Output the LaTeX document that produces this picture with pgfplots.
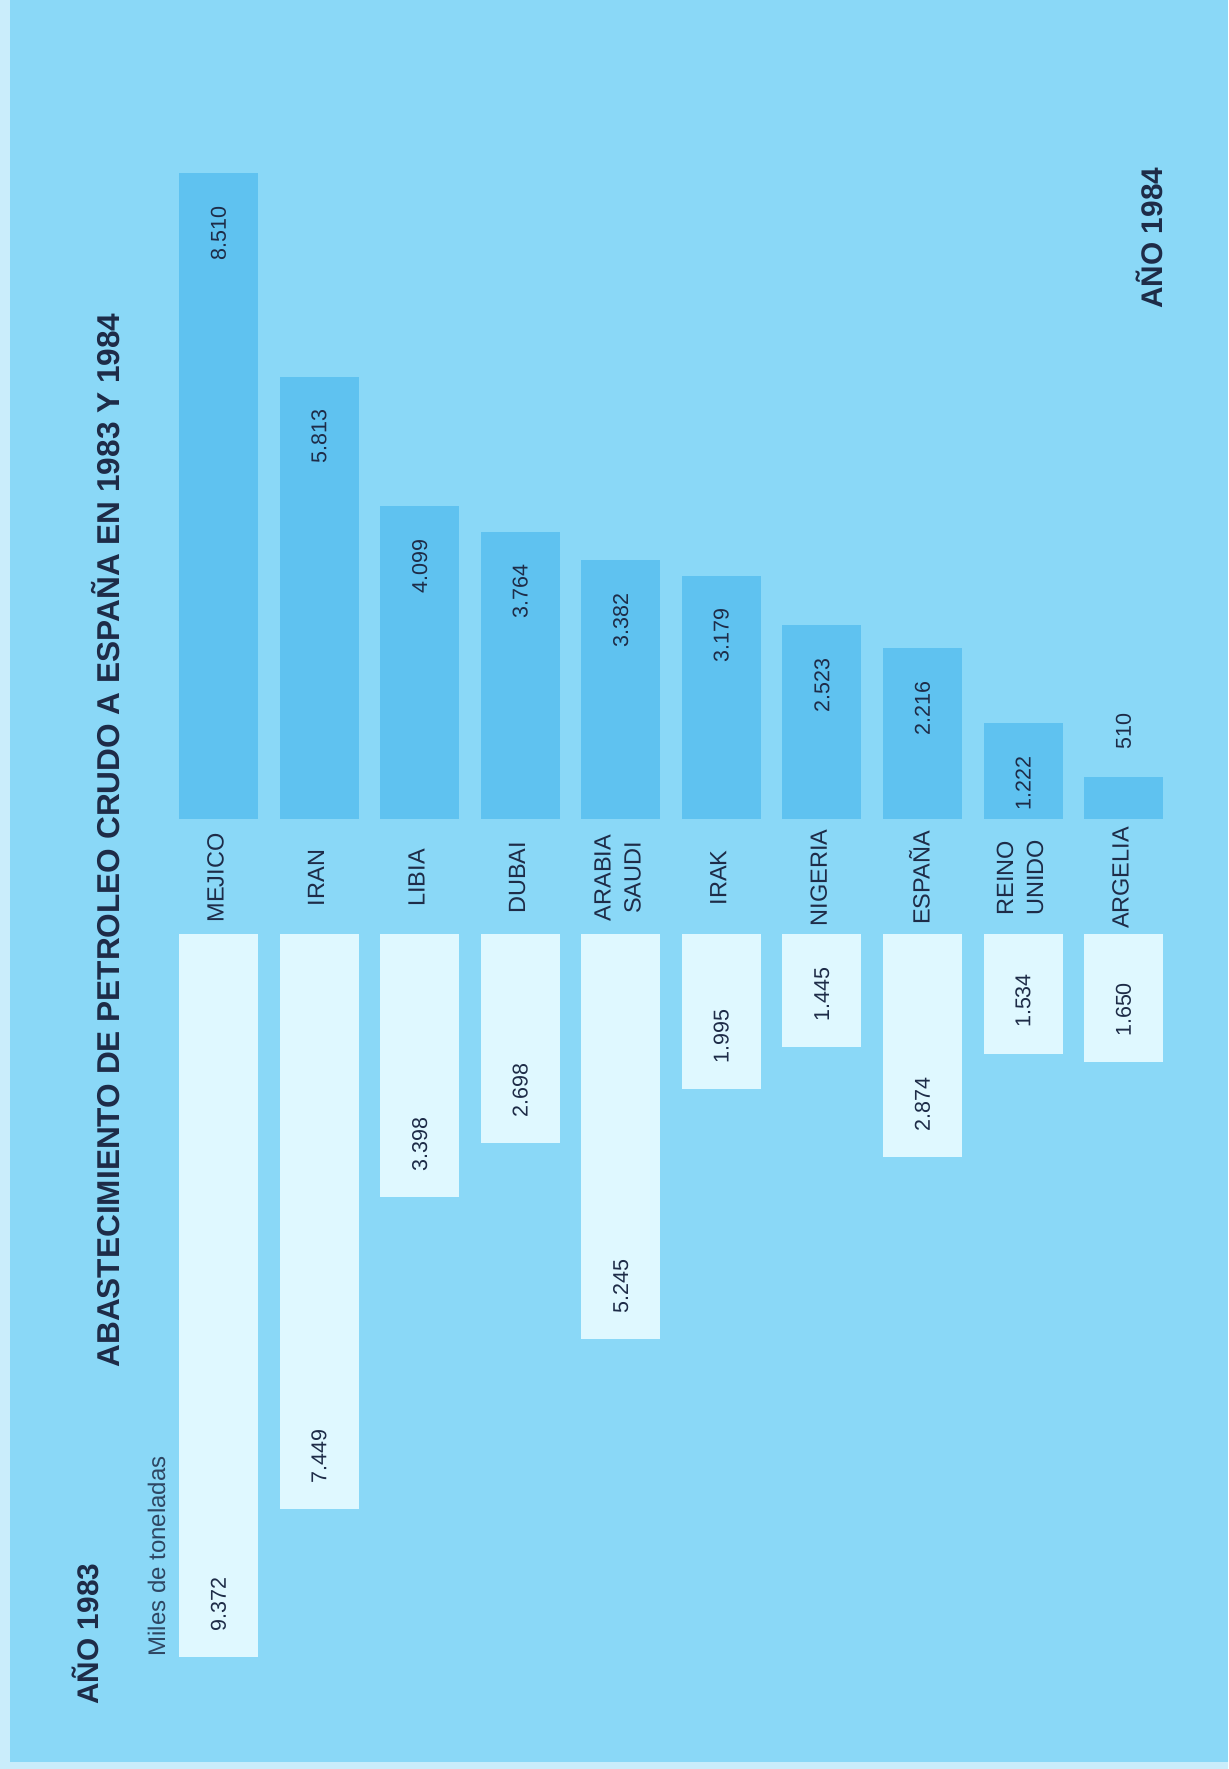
\documentclass[border=0pt]{standalone}
\usepackage{fontspec}
\setmainfont{Liberation Sans}
\usepackage{pgfplots}
\usepackage{pgfplotstable}
\pgfplotsset{compat=1.18}
\definecolor{bg}{HTML}{8AD8F7}
\definecolor{b84}{HTML}{5FC2F0}
\definecolor{b83}{HTML}{DFF8FF}
\definecolor{ink}{HTML}{1E2C48}
\pgfkeys{/pgf/number format/.cd, fixed, precision=0, 1000 sep={.}, assume math mode=true}

% 1984
\pgfplotstableread{
x y
0 8510
1 5813
2 4099
3 3764
4 3382
5 3179
6 2523
7 2216
8 1222
}\tabA
\pgfplotstableread{
x y
9 510
}\tabAb
% 1983
\pgfplotstableread{
x y
0 9372
1 7449
2 3398
3 2698
4 5245
5 1995
6 1445
7 2874
8 1534
9 1650
}\tabB

\begin{document}
\begin{tikzpicture}
\fill[bg] (0,0) rectangle (614pt,884.5pt);
\fill[bg!45!white] (0,0) rectangle (5pt,884.5pt);
\fill[bg!45!white] (0,0) rectangle (614pt,3.5pt);

% ---- 1984 (upwards)
\begin{axis}[
  at={(84.11pt,475pt)}, anchor=south west,
  x=50.28pt, y=0.03775pt,
  xmin=-0.5, xmax=9.5, ymin=0, ymax=9000,
  ybar, bar width=36.25pt,
  axis line style={draw=none},
  major tick length=0pt,
  ytick=\empty,
  xtick={0,...,9},
  xticklabels={MEJICO,IRAN,LIBIA,DUBAI,{ARABIA\\SAUDI},IRAK,NIGERIA,ESPAÑA,{REINO\\UNIDO},ARGELIA},
  xticklabel style={yshift=-29.5pt, xshift=-1.5pt, rotate=90, anchor=center, align=center,
     font=\fontsize{11.75}{15}\selectfont, text=ink, inner sep=0pt},
  clip=true,
]
\addplot[fill=b84, draw=b84, line width=3.25pt, bar shift=0pt, point meta=explicit,
  nodes near coords={\pgfmathprintnumber{\pgfplotspointmeta}},
  every node near coord/.append style={yshift=-13.25pt, rotate=90, anchor=east, inner sep=0pt,
     font=\fontsize{10.75}{12}\selectfont, text=ink}]
  table[x=x, y=y, meta=y] {\tabA};
\addplot[fill=b84, draw=b84, line width=3.25pt, bar shift=0pt, point meta=explicit,
  nodes near coords={\pgfmathprintnumber{\pgfplotspointmeta}},
  every node near coord/.append style={yshift=13.75pt, rotate=90, anchor=west, inner sep=0pt,
     font=\fontsize{10.75}{12}\selectfont, text=ink}]
  table[x=x, y=y, meta=y] {\tabAb};
\end{axis}

% ---- 1983 (downwards)
\begin{axis}[
  at={(84.11pt,417.5pt)}, anchor=north west,
  x=50.28pt, y=0.0385pt,
  xmin=-0.5, xmax=9.5, ymin=0, ymax=10000,
  y dir=reverse,
  ybar, bar width=38.1pt,
  axis line style={draw=none},
  major tick length=0pt,
  xtick=\empty, ytick=\empty,
  clip=true,
]
\addplot[fill=b83, draw=b83, line width=1.4pt, bar shift=0pt, point meta=explicit,
  nodes near coords={\pgfmathprintnumber{\pgfplotspointmeta}},
  every node near coord/.append style={yshift=11.4pt, rotate=90, anchor=west, inner sep=0pt,
     font=\fontsize{10.75}{12}\selectfont, text=ink}]
  table[x=x, y=y, meta=y] {\tabB};
\end{axis}

% ---- texts
\node[rotate=90, anchor=base east, inner sep=0pt, text=ink, font=\fontsize{15.8}{18}\selectfont\bfseries]
  at (59.5pt,728pt) {ABASTECIMIENTO DE PETROLEO CRUDO A ESPAÑA EN 1983 Y 1984};
\node[rotate=90, anchor=base west, inner sep=0pt, text=ink!85!bg, font=\fontsize{12}{14}\selectfont]
  at (82.5pt,56pt) {Miles de toneladas};
\node[rotate=90, anchor=base west, inner sep=0pt, text=ink, font=\fontsize{14.9}{17}\selectfont\bfseries]
  at (581pt,730pt) {AÑO 1984};
\node[rotate=90, anchor=base west, inner sep=0pt, text=ink, font=\fontsize{14.9}{17}\selectfont\bfseries]
  at (49pt,32pt) {AÑO 1983};
\end{tikzpicture}
\end{document}
